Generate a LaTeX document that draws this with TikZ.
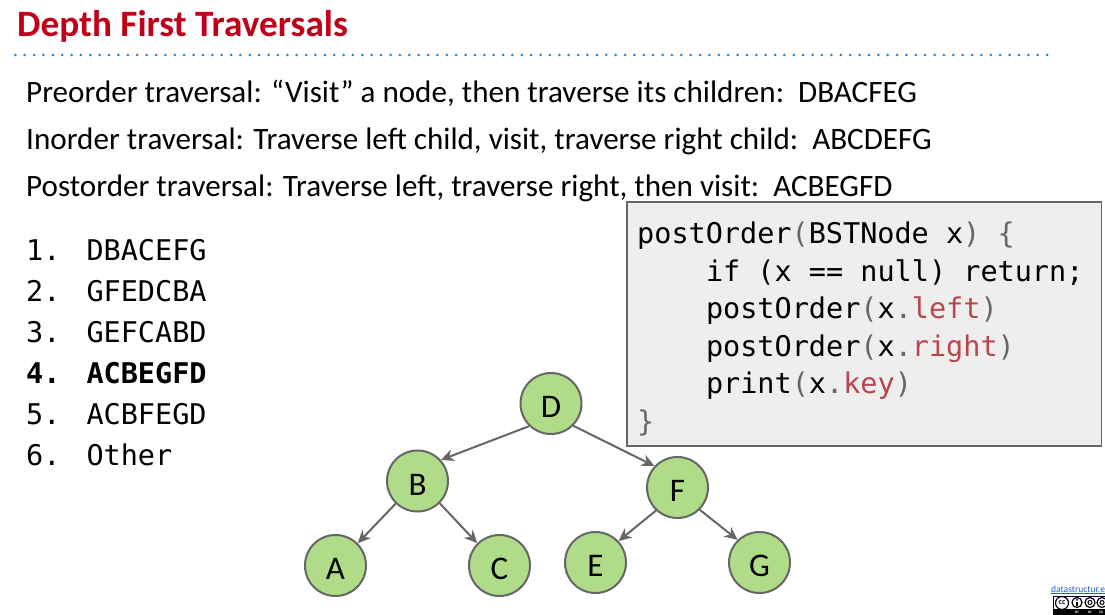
\documentclass[tikz,border=0pt]{standalone}
\usepackage{fontspec}
\setmainfont{Carlito}
\newfontfamily\codefont{DejaVu Sans Mono}
\usepackage{xcolor}
\usetikzlibrary{arrows.meta}
\definecolor{titlered}{HTML}{C00018}
\definecolor{ruleblue}{HTML}{2F86D2}
\definecolor{nodegreen}{HTML}{B0DC8A}
\definecolor{linegray}{HTML}{666666}
\definecolor{boxgray}{HTML}{EEEEEE}
\definecolor{codered}{HTML}{B8464A}
\definecolor{linkblue}{HTML}{1F5FD8}
\tikzstyle{treenode} = [circle, 
minimum size=61pt, 
inner sep=0pt,
text centered, 
text height=28.5pt,
text depth=0pt,
fill=nodegreen,
draw=linegray,
line width=2pt,
font=\fontsize{33}{33}\selectfont]
\tikzstyle{arrow} = [line width=2pt,draw=linegray,-{Stealth[length=13pt,width=12pt]}]
\tikzstyle{textline} = [anchor=base west, inner sep=0pt, font=\fontsize{31.1}{31.1}\selectfont]
\tikzstyle{badgelabel} = [inner sep=0pt, text=white, font=\fontsize{3.5}{3.5}\selectfont\bfseries]
\newcommand{\gp}[1]{\textcolor{linegray}{#1}}
\newcommand{\rd}[1]{\textcolor{codered}{#1}}

\begin{document}
\begin{tikzpicture}[x=1pt,y=-1pt]
\useasboundingbox (0,0) rectangle (1105,615);

% Title and dotted rule
\node[textline, text=titlered, font=\fontsize{37.2}{37.2}\selectfont\bfseries] (title) at (17,37) {Depth First Traversals};
\draw[ruleblue, line width=3pt, line cap=round, dash pattern=on 0pt off 9.38pt] (15.3,55) -- (1048,55);

% Text lines
\node[textline] (preorder) at (26,102.5) {Preorder traversal: “Visit” a node, then traverse its children:\ \ DBACFEG};
\node[textline] (inorder) at (26,149.5) {Inorder traversal: Traverse left child, visit, traverse right child:\ \ ABCDEFG};
\node[textline] (postorder) at (26,196) {Postorder traversal: Traverse left, traverse right, then visit:\ \ ACBEGFD};

% Answer choices
\node[anchor=north west, inner sep=0pt, align=left, font=\fontsize{28.5}{41}\selectfont\codefont] (choices) at (26,239) {1.\hspace*{26pt}DBACEFG\\
2.\hspace*{26pt}GFEDCBA\\
3.\hspace*{26pt}GEFCABD\\
\textbf{4.\hspace*{26pt}ACBEGFD}\\
5.\hspace*{26pt}ACBFEGD\\
6.\hspace*{26pt}Other};

% Code box
\node[anchor=north west, rectangle, minimum width=474.5pt, minimum height=244pt,
  fill=boxgray, draw=linegray, line width=1.5pt] (codebox) at (626,201) {};
\node[anchor=north west, inner sep=0pt, align=left, font=\fontsize{28.5}{37.5}\selectfont\codefont] (code) at (637,222) {postOrder\gp{(}BSTNode x\gp{)} \gp{\{}\\
\hspace*{68.8pt}if (x == null) return;\\
\hspace*{68.8pt}postOrder\gp{(}x\gp{.}\rd{left}\gp{)}\\
\hspace*{68.8pt}postOrder\gp{(}x\gp{.}\rd{right}\gp{)}\\
\hspace*{68.8pt}print\gp{(}x\gp{.}\rd{key}\gp{)}\\
\gp{\}}};

% Tree nodes
\node[treenode] (D) at (551,403.5) {D};
\node[treenode] (B) at (417.5,481) {B};
\node[treenode] (F) at (677.5,487.5) {F};
\node[treenode] (A) at (335.5,565.5) {A};
\node[treenode] (C) at (499.5,565.5) {C};
\node[treenode] (E) at (595.5,562.5) {E};
\node[treenode] (G) at (759.5,562.5) {G};

% Tree edges
\draw[arrow] (D.226) -- (B.42);
\draw[arrow] (D.-45) -- (F.137);
\draw[arrow] (B.226) -- (A.45);
\draw[arrow] (B.-45) -- (C.135);
\draw[arrow] (F.227) -- (E.43);
\draw[arrow] (F.-45) -- (G.134);

% Link and licence badge
\node[anchor=base west, inner sep=0pt, text=linkblue, font=\fontsize{9.5}{9.5}\selectfont] (link) at (1051,592) {\underline{datastructur.e}};
\fill[black] (1053,596) rectangle (1105,615);
\fill[white] (1054,597) rectangle (1105,609);
\draw[black, fill=white, line width=1.2pt] (1062,603) circle (6.5pt);
\draw[black, fill=white, line width=1.2pt] (1077,602.5) circle (5pt);
\draw[black, fill=white, line width=1.2pt] (1090,602.5) circle (5pt);
\draw[black, fill=white, line width=1.2pt] (1102,602.5) circle (5pt);
\fill[black] (1077,599.8) circle (1pt);
\fill[black] (1076,601.5) rectangle (1078,606);
\draw[black, line width=1pt] (1090,602.5) circle (2pt);
\draw[black, line width=1pt] (1102,602.5) circle (2pt);
\node[inner sep=0pt, font=\fontsize{8}{8}\selectfont\bfseries] (cc) at (1062,602.5) {cc};
\node[badgelabel] (by) at (1077,612) {BY};
\node[badgelabel] (nc) at (1090,612) {NC};
\node[badgelabel] (sa) at (1101,612) {SA};
\end{tikzpicture}
\end{document}
